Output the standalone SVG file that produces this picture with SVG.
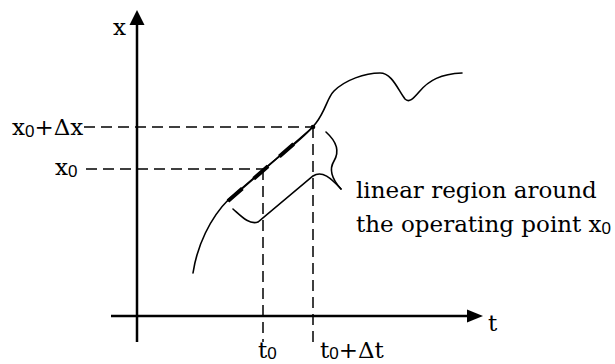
<svg xmlns="http://www.w3.org/2000/svg" width="615" height="364" viewBox="0 0 615 364">
<style>
.t{font-family:"DejaVu Serif","Liberation Serif",serif;font-size:23px;fill:#000}
.s{font-family:"Liberation Sans",Arial,sans-serif;font-size:17px}
.ax{stroke:#000;stroke-width:2.5;fill:none}
.d{stroke:#000;stroke-width:1.5;fill:none;stroke-dasharray:11 6}
.c{stroke:#000;stroke-width:1.6;fill:none;stroke-linecap:round}
</style>
<rect width="615" height="364" fill="#fff"/>
<g id="axes">
<line class="ax" x1="137" y1="342" x2="137" y2="22"/>
<polygon points="137,10 129.5,25 144.5,25" fill="#000"/>
<line class="ax" x1="111" y1="316" x2="469" y2="316"/>
<polygon points="483,316 467,309.5 467,322.5" fill="#000"/>
</g>
<g id="guides">
<line class="d" x1="84" y1="127" x2="313" y2="127"/>
<line class="d" x1="86" y1="169" x2="263" y2="169"/>
<line class="d" x1="263" y1="169" x2="263" y2="342"/>
<line class="d" x1="313" y1="127" x2="313" y2="342"/>
</g>
<g id="curve">
<path class="c" d="M193,273 C197,246 210,218 229,199 C245,186 260,172 276,159 C292,146 306,136 316,123 C326,110 327,98 334,91 C345,80 365,73 380,73 C392,73 398,90 405,99 C409,103 413,99 419,92 C429,80 441,74 462,73"/>
</g>
<g id="tangent">
<line class="c" x1="228" y1="201" x2="313" y2="127"/>
<line x1="228" y1="201" x2="304" y2="135" stroke="#000" stroke-width="4" stroke-dasharray="19 15"/>
<circle cx="313" cy="127" r="2.3" fill="#000"/>
</g>
<g id="region">
<path class="c" d="M233,209 C241,216 249,225 258,222 L313,176 C322,170 331,178 341,189"/>
<path class="c" d="M326,132 C336,141 340,151 334,161 C329,169 331,178 341,189"/>
</g>
<g id="labels">
<text class="t" x="113" y="35">x</text>
<text class="t" x="12" y="135">x<tspan class="s" dy="2">0</tspan><tspan dy="-2">+Δx</tspan></text>
<text class="t" x="55" y="175">x<tspan class="s" dy="2">0</tspan></text>
<text class="t" x="356" y="198">linear region around</text>
<text class="t" x="356" y="232">the operating point x<tspan class="s" dy="2">0</tspan></text>
<text class="t" x="488" y="331">t</text>
<text class="t" x="258" y="358">t<tspan class="s" dy="1">0</tspan></text>
<text class="t" x="320" y="358">t<tspan class="s" dy="1">0</tspan><tspan dy="-1">+Δt</tspan></text>
</g>
</svg>
